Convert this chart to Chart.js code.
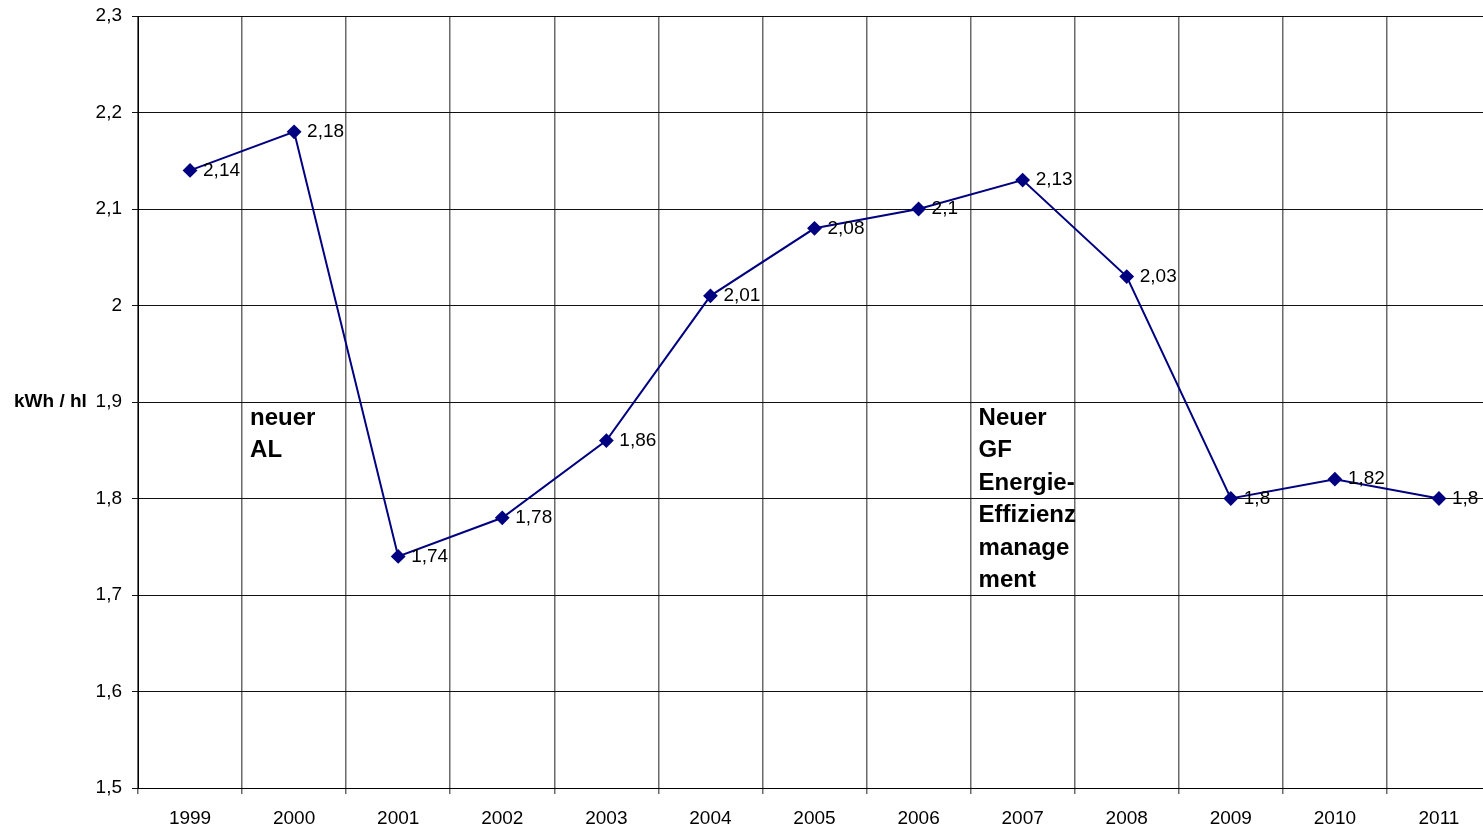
<!DOCTYPE html>
<html>
<head>
<meta charset="utf-8">
<script src="https://cdn.jsdelivr.net/npm/chart.js@4/dist/chart.umd.min.js"></script>
<style>
    body { margin: 0; overflow: hidden; background: #fff; }
    #wrap { width: 1499px; height: 830px; }
</style>
</head>
<body>
<div id="wrap"><canvas id="energyChart" width="1499" height="830"></canvas></div>
<script>
// data - START
const YEARS = ['1999', '2000', '2001', '2002', '2003', '2004', '2005', '2006', '2007', '2008', '2009', '2010', '2011'];
const KWH_PER_HL = [2.14, 2.18, 1.74, 1.78, 1.86, 2.01, 2.08, 2.1, 2.13, 2.03, 1.8, 1.82, 1.8];
const Y_MIN = 1.5;
const Y_MAX = 2.3;
const Y_STEP = 0.1;
const Y_TITLE = 'kWh / hl';
const NOTE_AL = ['neuer', 'AL'];
const NOTE_GF = ['Neuer', 'GF', 'Energie-', 'Effizienz', 'manage', 'ment'];
// data - END

let fmt = (v) => String(Math.round(v * 100) / 100).replace('.', ',');

let labelsPlugin = {
    id: 'labelsPlugin',
    afterDatasetsDraw(chart) {
        let ctx = chart.ctx;
        let xs = chart.scales.x;
        let ys = chart.scales.y;
        let meta = chart.getDatasetMeta(0);

        ctx.save();
        // point values
        ctx.font = '19px "Liberation Sans", Arial, sans-serif';
        ctx.fillStyle = '#000';
        ctx.textAlign = 'left';
        ctx.textBaseline = 'middle';
        meta.data.forEach((pt, i) => {
            ctx.fillText(fmt(KWH_PER_HL[i]), pt.x + 13, pt.y);
        });

        // notes, placed just right of a category boundary
        let half = (xs.getPixelForValue(1) - xs.getPixelForValue(0)) / 2;
        let drawNote = (lines, idx) => {
            let left = xs.getPixelForValue(idx) - half + 8;
            let top = ys.getPixelForValue(1.883);
            ctx.font = 'bold 24px "Liberation Sans", Arial, sans-serif';
            lines.forEach((t, k) => ctx.fillText(t, left, top + k * 32.4));
        };
        drawNote(NOTE_AL, 1);
        drawNote(NOTE_GF, 8);

        // y title, horizontal next to the 1,9 tick
        ctx.font = 'bold 19px "Liberation Sans", Arial, sans-serif';
        ctx.fillText(Y_TITLE, 14, ys.getPixelForValue(1.9));
        ctx.restore();
    }
};

let ctx = document.getElementById('energyChart');
let chart = new Chart(ctx, {
    type: 'line',
    data: {
        labels: YEARS,
        datasets: [{
            data: KWH_PER_HL,
            borderColor: '#000080',
            backgroundColor: '#000080',
            borderWidth: 2,
            pointStyle: 'rectRot',
            pointRadius: 6,
            pointHoverRadius: 6,
            tension: 0,
            fill: false
        }]
    },
    options: {
        responsive: false,
        animation: false,
        events: [],
        layout: { padding: { top: 16, right: 2, left: 0, bottom: 0 } },
        plugins: {
            legend: { display: false },
            tooltip: { enabled: false }
        },
        scales: {
            x: {
                offset: true,
                grid: { offset: true, color: '#6a6a6a', lineWidth: 1.5, tickLength: 6, drawTicks: true },
                border: { color: '#000', width: 1 },
                ticks: {
                    color: '#000',
                    font: { family: '"Liberation Sans", Arial, sans-serif', size: 19 },
                    padding: 13,
                    maxRotation: 0,
                    autoSkip: false
                },
                afterFit: (scale) => { scale.height = 42; }
            },
            y: {
                min: Y_MIN,
                max: Y_MAX,
                grid: { color: '#111', lineWidth: 1, tickLength: 6 },
                border: { color: '#000', width: 1 },
                ticks: {
                    stepSize: Y_STEP,
                    color: '#000',
                    padding: 10,
                    font: { family: '"Liberation Sans", Arial, sans-serif', size: 19 },
                    callback: (v) => fmt(v)
                },
                afterFit: (scale) => {
                    scale.width = 138;
                    scale.paddingTop = 0;
                    scale.paddingBottom = 0;
                }
            }
        }
    },
    plugins: [labelsPlugin]
});
</script>
</body>
</html>
